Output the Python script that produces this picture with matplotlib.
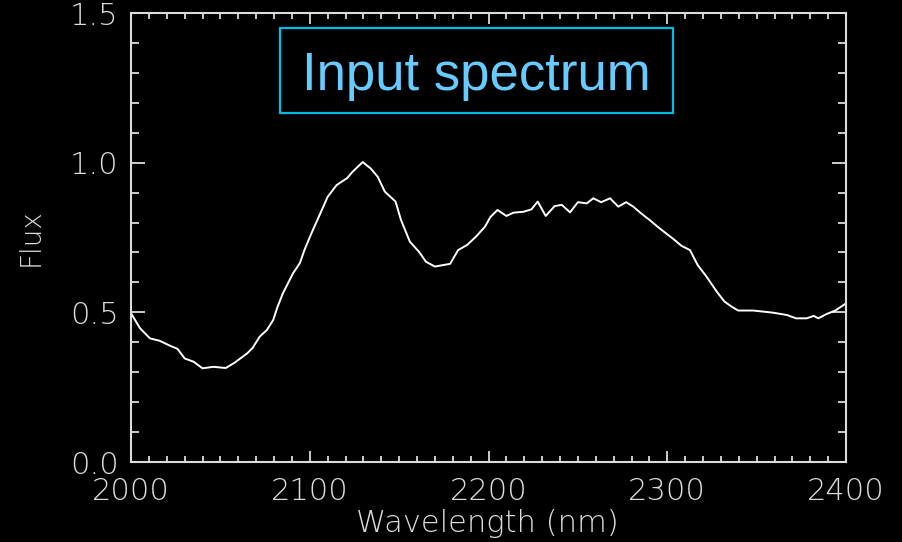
import numpy as np
import matplotlib
matplotlib.use("Agg")
import matplotlib.pyplot as plt
from matplotlib.ticker import MultipleLocator
from matplotlib.patches import Rectangle

# spectrum
wavelength = [2000, 2005, 2010.6, 2016, 2022, 2026, 2030, 2035, 2040, 2046, 2053, 2058,
              2065, 2068, 2072, 2076, 2079.5, 2082, 2085, 2090.7, 2094.5, 2097, 2101,
              2106, 2110, 2115, 2121, 2124, 2129.6, 2134, 2138, 2142, 2148, 2151, 2156,
              2161, 2165, 2170, 2178.5, 2183, 2188, 2193, 2198, 2201, 2205, 2210, 2214,
              2219.5, 2224, 2227.5, 2232, 2237, 2241, 2245.6, 2250, 2255, 2258.6, 2263,
              2268, 2272.6, 2277, 2281, 2285.7, 2290, 2295, 2299.7, 2303, 2308, 2312.7,
              2317, 2322, 2327.7, 2332, 2336, 2339.7, 2348, 2359, 2367, 2372, 2378,
              2382, 2384.5, 2389, 2394, 2399.5]
flux = [0.497, 0.447, 0.413, 0.405, 0.388, 0.378, 0.346, 0.335, 0.313, 0.318, 0.314, 0.332,
        0.363, 0.381, 0.419, 0.441, 0.474, 0.519, 0.564, 0.631, 0.665, 0.708, 0.765,
        0.832, 0.886, 0.925, 0.949, 0.970, 1.002, 0.981, 0.953, 0.903, 0.870, 0.809, 0.736,
        0.703, 0.669, 0.653, 0.662, 0.708, 0.725, 0.753, 0.786, 0.818, 0.842, 0.822, 0.833,
        0.836, 0.844, 0.870, 0.822, 0.855, 0.859, 0.834, 0.868, 0.864, 0.881, 0.868,
        0.881, 0.853, 0.868, 0.853, 0.829, 0.809, 0.784, 0.762, 0.747, 0.722, 0.708,
        0.658, 0.619, 0.569, 0.536, 0.519, 0.506, 0.506, 0.499, 0.491, 0.480, 0.480,
        0.488, 0.480, 0.494, 0.506, 0.528]

fg = '#dcdcdc'
lab_font = dict(family='DejaVu Sans', weight='light', color=fg)

fig = plt.figure(figsize=(9.03, 5.42), dpi=100, facecolor='black')
ax = fig.add_axes([0.1451, 0.1476, 0.7918, 0.8284], facecolor='black')

ax.plot(wavelength, flux, color='white', lw=1.4)

ax.set_xlim(2000, 2400)
ax.set_ylim(0, 1.5)
ax.xaxis.set_major_locator(MultipleLocator(100))
ax.xaxis.set_minor_locator(MultipleLocator(10))
ax.yaxis.set_minor_locator(MultipleLocator(0.1))
ax.set_yticks([0, 0.5, 1.0, 1.5])
ax.set_yticklabels(['0.0', '0.5', '1.0', '1.5'])

for s in ax.spines.values():
    s.set_color(fg)
    s.set_linewidth(1.5)

ax.tick_params(axis='both', which='both', direction='in', colors=fg,
               top=True, right=True, width=1.3)
ax.tick_params(axis='x', which='major', length=8, pad=11)
ax.tick_params(axis='x', which='minor', length=4.5)
ax.tick_params(axis='y', which='major', length=10, pad=9)
ax.tick_params(axis='y', which='minor', length=5.5)
for lbl in ax.get_xticklabels() + ax.get_yticklabels():
    lbl.set_fontsize(22)
    lbl.set_fontweight('light')
    lbl.set_color(fg)

ax.set_xlabel('Wavelength (nm)', fontsize=22, va='center', **lab_font)
ax.set_ylabel('Flux', fontsize=20, va='center', **lab_font)
ax.xaxis.set_label_coords(0.498, -0.138)
ax.yaxis.set_label_coords(-0.140, 0.5)

# title box
fig.patches.append(Rectangle((0.3101, 0.7915), 0.4352, 0.1568, transform=fig.transFigure,
                             fill=False, ec='#00bde6', lw=1.6))
fig.text(0.527, 0.834, 'Input spectrum', fontsize=38, family='Liberation Sans',
         color='#66ccff', ha='center', va='baseline')

fig.savefig('out.png', dpi=100, facecolor='black')
